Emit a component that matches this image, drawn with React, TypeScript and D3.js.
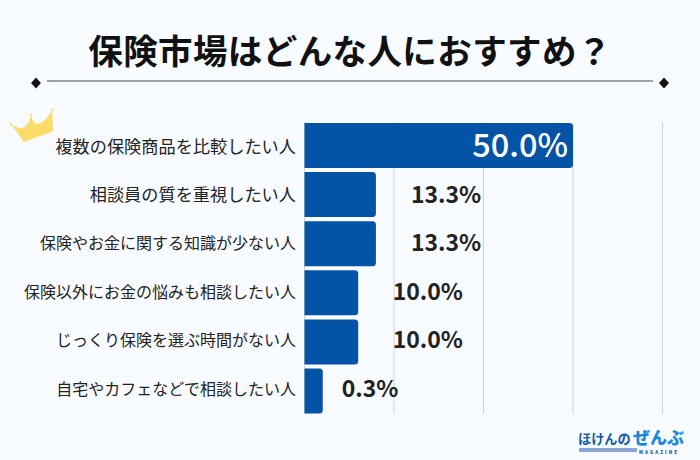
import React from "react";
import * as d3 from "d3";

const categories = [
  "複数の保険商品を比較したい人",
  "相談員の質を重視したい人",
  "保険やお金に関する知識が少ない人",
  "保険以外にお金の悩みも相談したい人",
  "じっくり保険を選ぶ時間がない人",
  "自宅やカフェなどで相談したい人",
];
const values = [50.0, 13.3, 13.3, 10.0, 10.0, 3.4];
const valueLabels = ["50.0%", "13.3%", "13.3%", "10.0%", "10.0%", "0.3%"];
const gridTicks = [16.67, 33.33, 50, 66.67];
const title = "保険市場はどんな人におすすめ？";

const FONT = "'Noto Sans CJK JP', 'Noto Sans', sans-serif";
const BLUE = "#0353a6";

function roundedRight(x0: number, x1: number, y: number, h: number, r: number) {
  const p = d3.path();
  p.moveTo(x0, y);
  p.lineTo(x1 - r, y);
  p.quadraticCurveTo(x1, y, x1, y + r);
  p.lineTo(x1, y + h - r);
  p.quadraticCurveTo(x1, y + h, x1 - r, y + h);
  p.lineTo(x0, y + h);
  p.closePath();
  return p.toString();
}

export default function App() {
  const x = d3.scaleLinear().domain([0, 66.67]).range([304.5, 662.5]);
  const y = d3.scaleBand<string>().domain(categories).range([123, 413.5]).paddingInner(0.0835).paddingOuter(0);
  const labelY = d3.scalePoint<string>().domain(categories).range([146.5, 388.5]);
  const h = y.bandwidth();
  return (
    <svg width={700} height={460} viewBox="0 0 700 460" style={{ position: "absolute", left: 0, top: 0, fontFamily: FONT }}>
      <rect width={700} height={460} fill="#f8fbff" />
      <text x={350} y={64} textAnchor="middle" fontSize={34.5} fontWeight={700} letterSpacing={0.4} fill="#111">{title}</text>
      <line x1={47} x2={653} y1={81} y2={81} stroke="#444" strokeWidth={1} />
      {[36, 664].map((cx) => (
        <path key={cx} d={`M${cx} 77.5L${cx + 5} 83L${cx} 88.5L${cx - 5} 83Z`} fill="#111" />
      ))}
      <path d="M11 124Q18 129 23 128Q29 125 31 115Q33 124 38 124Q46 122 52.5 110Q52 122 53.5 131L24 142Z" fill="#fbdc6a" />
      {[[11, 124], [31, 115], [52.5, 110]].map(([cx, cy]) => (
        <circle key={cx} cx={cx} cy={cy} r={1.2} fill="#fbdc6a" />
      ))}
      {gridTicks.map((t) => (
        <line key={t} x1={x(t)} x2={x(t)} y1={122} y2={414} stroke="#cfd3d8" strokeWidth={1} />
      ))}
      <line x1={304.5} x2={304.5} y1={122} y2={414} stroke="#cfd3d8" strokeWidth={1} />
      {categories.map((c, i) => (
        <g key={c}>
          <path d={roundedRight(x(0), x(values[i]), y(c)!, h, 3.5)} fill={BLUE} />
          <text x={296} y={labelY(c)! + 6} textAnchor="end" fontSize={c.length <= 14 ? 17.2 : 16} fill="#222">{c}</text>
          <text
            x={i === 0 ? x(values[i]) - 5 : x(values[i]) + (i < 3 ? 35 : i < 5 ? 34.5 : 19)}
            y={labelY(c)! + (i === 0 ? 10 : 8)}
            textAnchor={i === 0 ? "end" : "start"}
            fontSize={i === 0 ? 32.5 : 23}
            fontWeight={i === 0 ? 500 : 700}
            fill={i === 0 ? "#fff" : "#222"}
          >{valueLabels[i]}</text>
        </g>
      ))}
      <text x={578} y={443.5} fontSize={13.2} fontWeight={700} fill="#0d5aa7">ほけんの</text>
      <text x={633} y={443.5} fontSize={17} fontWeight={900} fill="#1e88d8">ぜんぶ</text>
      <rect x={579} y={448} width={58} height={4} fill="#8aa5d6" />
      <text x={639} y={453.5} fontSize={4.5} fontWeight={900} fill="#0d5aa7" textLength={38}>MAGAZINE</text>
    </svg>
  );
}
